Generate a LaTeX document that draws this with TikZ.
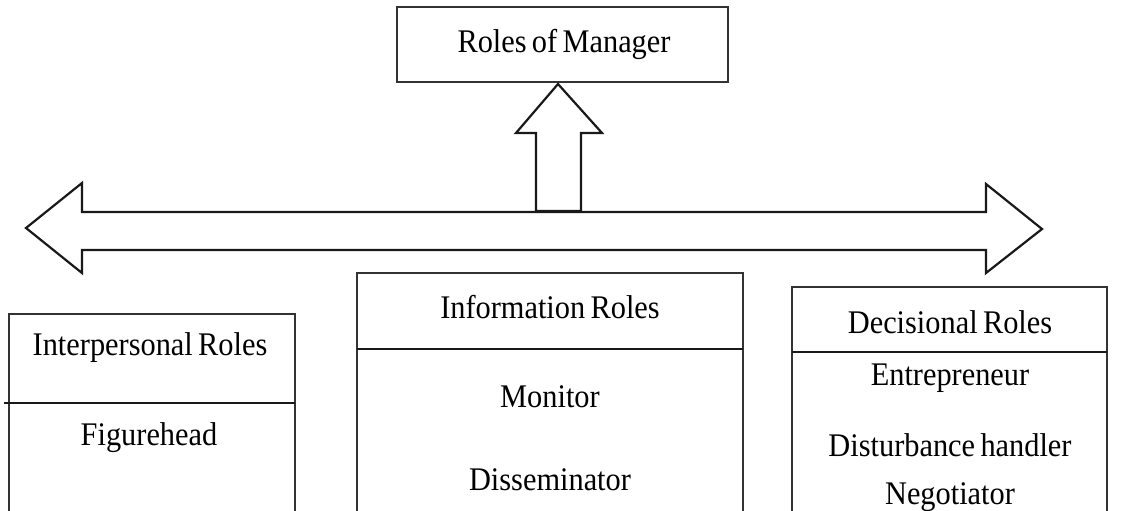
\documentclass[tikz,border=0pt]{standalone}
\usepackage{fontspec}
\setmainfont[FakeStretch=0.92,WordSpace=0.7]{Liberation Serif}
\begin{document}
\begin{tikzpicture}[x=1pt,y=-1pt,
  frame/.style={draw=black!80,line width=1.2pt},
  divider/.style={draw=black!90,line width=2pt},
  fat/.style={draw=black!90,line width=2.2pt,line join=miter},
  label/.style={inner sep=0pt,font=\fontsize{33}{38}\selectfont}]
\clip (0,0) rectangle (1121,511);

% title box
\draw[frame] (397,7) rectangle (728,82);
\node[label] (title) at (564,44) {Roles of Manager};

% upward arrow standing on the double arrow
\draw[fat] (536,211) -- (536,133) -- (516,133) -- (558,84) -- (602,133)
  -- (581,133) -- (581,211) -- cycle;

% horizontal double arrow
\draw[fat] (26,228) -- (82,183) -- (82,212) -- (986,212) -- (986,184)
  -- (1042,229) -- (986,273) -- (986,250) -- (82,250) -- (82,273) -- cycle;

% interpersonal column
\draw[frame] (9,520) -- (9,314) -- (295,314) -- (295,520);
\draw[divider] (4,403) -- (295,403);
\node[label] (inter) at (150,348) {Interpersonal Roles};
\node[label] (fig) at (149,438) {Figurehead};

% information column
\draw[frame] (357,520) -- (357,273) -- (743,273) -- (743,520);
\draw[divider] (357,349) -- (743,349);
\node[label] (info) at (550,307) {Information Roles};
\node[label] (mon) at (550,397) {Monitor};
\node[label] (diss) at (550,480) {Disseminator};

% decisional column
\draw[frame] (792,520) -- (792,287) -- (1107,287) -- (1107,520);
\draw[divider] (792,352) -- (1107,352);
\node[label] (dec) at (950,322) {Decisional Roles};
\node[label] (ent) at (950,378) {Entrepreneur};
\node[label] (dist) at (950,445) {Disturbance handler};
\node[label] (neg) at (950,497) {Negotiator};
\end{tikzpicture}
\end{document}
